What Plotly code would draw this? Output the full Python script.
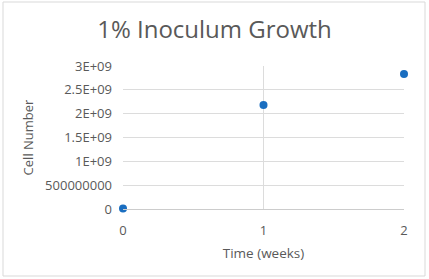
import plotly.graph_objects as go

weeks = [0, 1, 2]
cells = [1.0e7, 2.18e9, 2.83e9]
ytick_vals = [0, 5e8, 1e9, 1.5e9, 2e9, 2.5e9, 3e9]
ytick_text = ["0", "500000000", "1E+09", "1.5E+09", "2E+09", "2.5E+09", "3E+09"]
xtick_vals = [0, 1, 2]

W, H = 429, 279
L, R, T, B = 123, 25, 66, 70
pw, ph = W - L - R, H - T - B

fig = go.Figure()
fig.add_trace(go.Scatter(
    x=weeks, y=cells, mode="markers",
    marker=dict(color="#1a6ec0", size=8),
    cliponaxis=False, showlegend=False,
))

grey = "#595959"
fig.update_layout(
    width=W, height=H,
    margin=dict(l=L, r=R, t=T, b=B),
    paper_bgcolor="white", plot_bgcolor="white",
    font=dict(family="Open Sans", color=grey, size=13),
    title=dict(text="1% Inoculum Growth", x=0.5, xanchor="center",
               y=1 - 30 / H, yanchor="middle",
               font=dict(size=24, color=grey)),
    xaxis=dict(
        range=[0, 2], tickvals=xtick_vals, ticktext=[str(v) for v in xtick_vals],
        showgrid=True, gridcolor="#dcdcdc", gridwidth=1,
        zeroline=False, showline=True, linecolor="#cccccc",
        ticks="", ticklabelstandoff=9,
        title=dict(text="Time (weeks)", font=dict(size=13.5, color=grey), standoff=10),
    ),
    yaxis=dict(
        range=[0, 3e9], tickvals=ytick_vals, ticktext=ytick_text,
        showgrid=True, gridcolor="#dcdcdc", gridwidth=1,
        zeroline=False, showline=False, ticks="", ticklabelstandoff=10,
        title=dict(text="Cell Number", font=dict(size=13, color=grey), standoff=8),
    ),
    shapes=[dict(
        type="rect", xref="paper", yref="paper",
        x0=(3 - L) / pw, x1=(425 - L) / pw,
        y0=-(276 - T - ph) / ph, y1=1 + (T - 2) / ph,
        line=dict(color="#d9d9d9", width=1), fillcolor="rgba(0,0,0,0)", layer="below",
    )],
)

fig.write_html("out.html")
